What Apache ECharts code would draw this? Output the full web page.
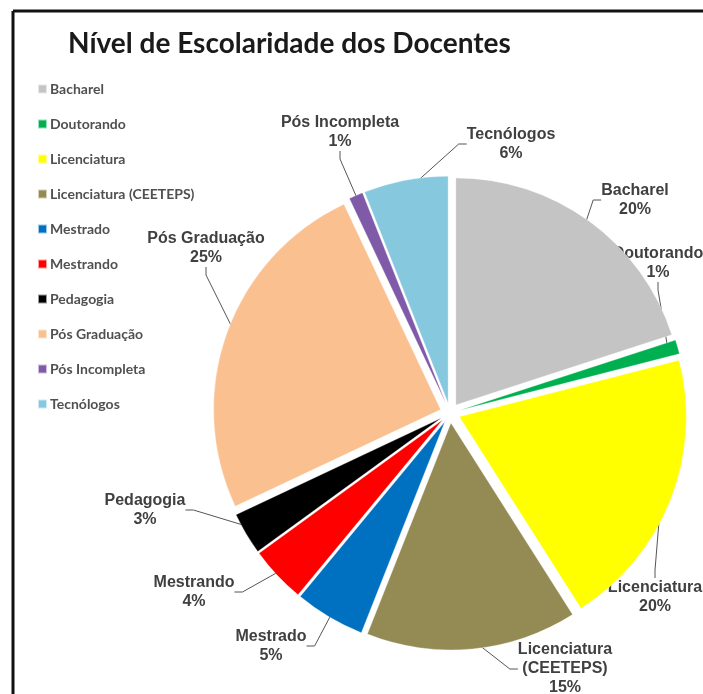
<!DOCTYPE html>
<html>
<head>
<meta charset="utf-8">
<script src="https://cdn.jsdelivr.net/npm/echarts@6/dist/echarts.min.js"></script>
<style>
html,body{margin:0;padding:0;background:#fff;}
#c{width:703px;height:694px;}
</style>
</head>
<body>
<div id="c"></div>
<script>
const categories = ["Bacharel","Doutorando","Licenciatura","Licenciatura (CEETEPS)","Mestrado","Mestrando","Pedagogia","Pós Graduação","Pós Incompleta","Tecnólogos"];
const values = [20,1,20,15,5,4,3,25,1,6];
const colors = ["#c4c4c4","#00b050","#ffff00","#948a54","#0070c0","#ff0000","#000000","#fac090","#7f5aa8","#86c8de"];
// label anchor positions (layout only)
const labelPos = [[635,200],[658,263],[655,597],[565,669],[271,646],[194,592],[145,510],[206,248],[340,132],[511,144]];

const chart = echarts.init(document.getElementById('c'), null, {renderer:'canvas'});
const sliceData = categories.map((n,i)=>({name:n, value:values[i], selected:true, itemStyle:{color:colors[i]}}));
const labelData = categories.map((n,i)=>({name:n, value:values[i]}));
const pieBase = {type:'pie', center:[450,413], radius:227, startAngle:90, clockwise:true, animation:false};
chart.setOption({
  animation:false,
  backgroundColor:'#fff',
  title:{
    text:'Nível de Escolaridade dos Docentes',
    left:63, top:25,
    textStyle:{fontFamily:'Lato', fontWeight:'bold', fontSize:28, color:'#1a1a1a'}
  },
  legend:{
    orient:'vertical', left:32, top:77,
    itemWidth:9, itemHeight:9, itemGap:21,
    icon:'rect',
    data:categories,
    textStyle:{fontFamily:'Lato', fontWeight:'bold', fontSize:14, color:'#505050', padding:[0,0,0,-2]}
  },
  graphic:[
    {type:'line', shape:{x1:13, y1:11, x2:703, y2:11}, style:{stroke:'#111', lineWidth:3}},
    {type:'line', shape:{x1:13, y1:11, x2:13, y2:694}, style:{stroke:'#111', lineWidth:3}}
  ],
  series:[
    Object.assign({}, pieBase, {
      name:'slices',
      z:3,
      selectedMode:'multiple',
      selectedOffset:10,
      data:sliceData,
      itemStyle:{borderColor:'rgba(255,255,255,0.6)', borderWidth:0.5},
      label:{show:false},
      labelLine:{show:false},
      emphasis:{disabled:true}
    }),
    Object.assign({}, pieBase, {
      name:'labels',
      z:1,
      silent:true,
      legendHoverLink:false,
      data:labelData,
      itemStyle:{color:'rgba(255,255,255,0)'},
      label:{
        show:true,
        formatter:p=>p.name.replace(' (','\n(')+'\n'+Math.round(p.percent)+'%',
        fontFamily:'Liberation Sans', fontWeight:'bold', fontSize:16, color:'#404040',
        lineHeight:19, align:'center', overflow:'none'
      },
      labelLine:{show:true, length:14, length2:8, lineStyle:{color:'#555', width:1}},
      labelLayout:function(params){
        const p = labelPos[params.dataIndex];
        return {x:p[0], y:p[1], align:'center', verticalAlign:'middle'};
      },
      emphasis:{disabled:true}
    })
  ]
});
</script>
</body>
</html>
